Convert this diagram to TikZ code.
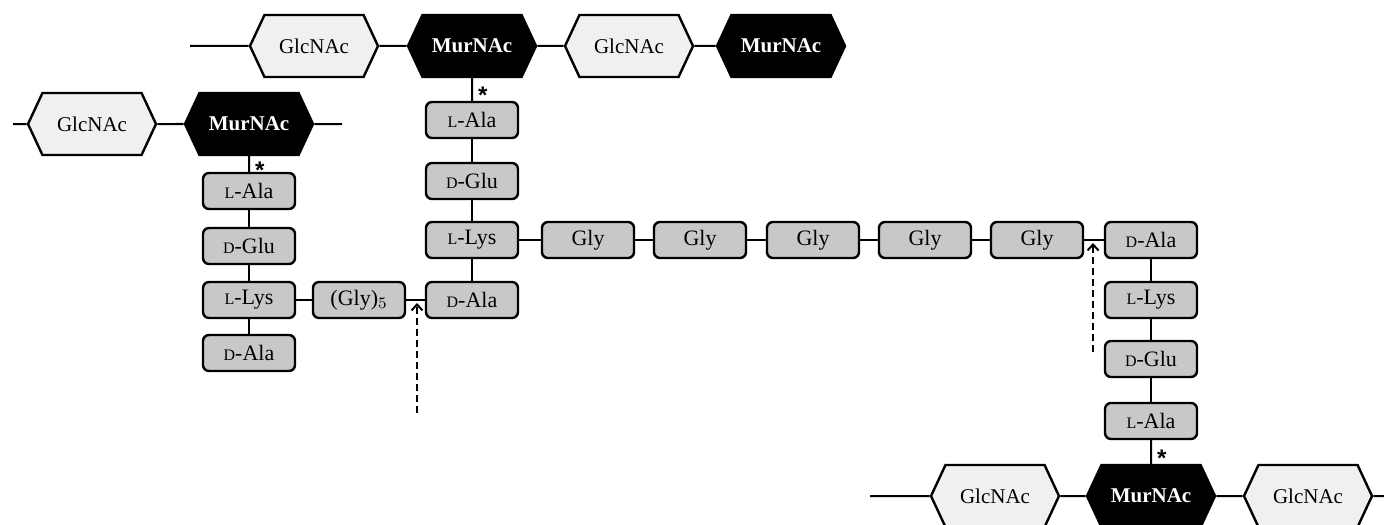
\documentclass[tikz,border=0pt]{standalone}
\usepackage{fontspec}
\setmainfont{Liberation Serif}
\newfontfamily\starfont{Liberation Sans}
\usetikzlibrary{shapes.symbols,arrows.meta,positioning}

\definecolor{glcfill}{RGB}{240,240,240}
\definecolor{aafill}{RGB}{200,200,200}
\newcommand{\smL}{{\fontsize{8}{8}\selectfont L}}
\newcommand{\smD}{{\fontsize{8}{8}\selectfont D}}

\tikzstyle{glc} = [signal, signal to=east and west, signal pointer angle=130, draw=black, line width=1.2pt, fill=glcfill, minimum width=64pt, minimum height=31pt, inner sep=0pt, font=\fontsize{10.5}{12}\selectfont]
\tikzstyle{mur} = [glc, fill=black, text=white, font=\fontsize{10.5}{12}\selectfont\bfseries]
\tikzstyle{aa} = [draw=black, line width=1.2pt, fill=aafill, rounded corners=3pt, minimum width=46pt, minimum height=18pt, inner sep=0pt, font=\fontsize{11}{12}\selectfont]
\tikzstyle{bond} = [line width=1pt]
\tikzstyle{cut} = [line width=1pt, dash pattern=on 3.5pt off 2pt, -{Straight Barb[length=3pt,width=5.5pt]}]
\tikzstyle{stlab} = [anchor=west, inner sep=0pt, xshift=2.5pt, text height=4pt, text depth=0pt, font=\starfont\bfseries\fontsize{12}{12}\selectfont]

\begin{document}
\begin{tikzpicture}[x=0.5pt,y=-0.5pt]
\clip (0,0) rectangle (1384,524);

% top strand
\coordinate (tEnd) at (190,46);
\node[glc] (g1) at (314,46) {GlcNAc};
\node[mur] (m1) at (472,46) {MurNAc};
\node[glc] (g2) at (629,46) {GlcNAc};
\node[mur] (m2) at (781,46) {MurNAc};
\draw[bond] (tEnd) -- (g1) -- (m1) -- (g2) -- (m2);

% left strand
\coordinate (lEndA) at (13,124);
\coordinate (lEndB) at (342,124);
\node[glc] (lg) at (92,124) {GlcNAc};
\node[mur] (lm) at (249,124) {MurNAc};
\draw[bond] (lEndA) -- (lg) -- (lm) -- (lEndB);

% left stem peptide
\node[aa] (lAla) at (249,191) {\smL-Ala};
\node[aa] (lGlu) at (249,246) {\smD-Glu};
\node[aa] (lLys) at (249,300) {\smL-Lys};
\node[aa] (lDAla) at (249,353) {\smD-Ala};
\node[aa] (pent) at (359,300) {(Gly)$_5$};
\draw[bond] (lm) -- node[stlab] {\raisebox{-5pt}{*}} (lAla);
\draw[bond] (lAla) -- (lGlu) -- (lLys) -- (lDAla);
\draw[bond] (lLys) -- (pent);

% middle stem peptide
\node[aa] (mAla) at (472,120) {\smL-Ala};
\node[aa] (mGlu) at (472,181) {\smD-Glu};
\node[aa] (mLys) at (472,240) {\smL-Lys};
\node[aa] (mDAla) at (472,300) {\smD-Ala};
\draw[bond] (m1) -- node[stlab] {\raisebox{-5pt}{*}} (mAla);
\draw[bond] (mAla) -- (mGlu) -- (mLys) -- (mDAla);
\draw[bond] (pent) -- (mDAla);

% pentaglycine bridge
\foreach \x [count=\i] in {588,700,813,925,1037}
  \node[aa] (gly\i) at (\x,240) {Gly};

% right stem peptide
\node[aa] (rDAla) at (1151,240) {\smD-Ala};
\node[aa] (rLys) at (1151,300) {\smL-Lys};
\node[aa] (rGlu) at (1151,359) {\smD-Glu};
\node[aa] (rAla) at (1151,421) {\smL-Ala};
\draw[bond] (mLys) -- (gly1) -- (gly2) -- (gly3) -- (gly4) -- (gly5) -- (rDAla);
\draw[bond] (rDAla) -- (rLys) -- (rGlu) -- (rAla);

% bottom strand
\coordinate (bEndA) at (870,496);
\coordinate (bEndB) at (1400,496);
\node[glc] (bg1) at (995,496) {GlcNAc};
\node[mur] (bm) at (1151,496) {MurNAc};
\node[glc] (bg2) at (1308,496) {GlcNAc};
\draw[bond] (bEndA) -- (bg1) -- (bm) -- (bg2) -- (bEndB);
\draw[bond] (rAla) -- node[stlab] {\raisebox{-5pt}{*}} (bm);

% cleavage sites
\coordinate (cutA0) at (417,413);
\coordinate (cutA1) at (417,303);
\coordinate (cutB0) at (1093,352);
\coordinate (cutB1) at (1093,243);
\draw[cut] (cutA0) -- (cutA1);
\draw[cut] (cutB0) -- (cutB1);
\end{tikzpicture}
\end{document}
